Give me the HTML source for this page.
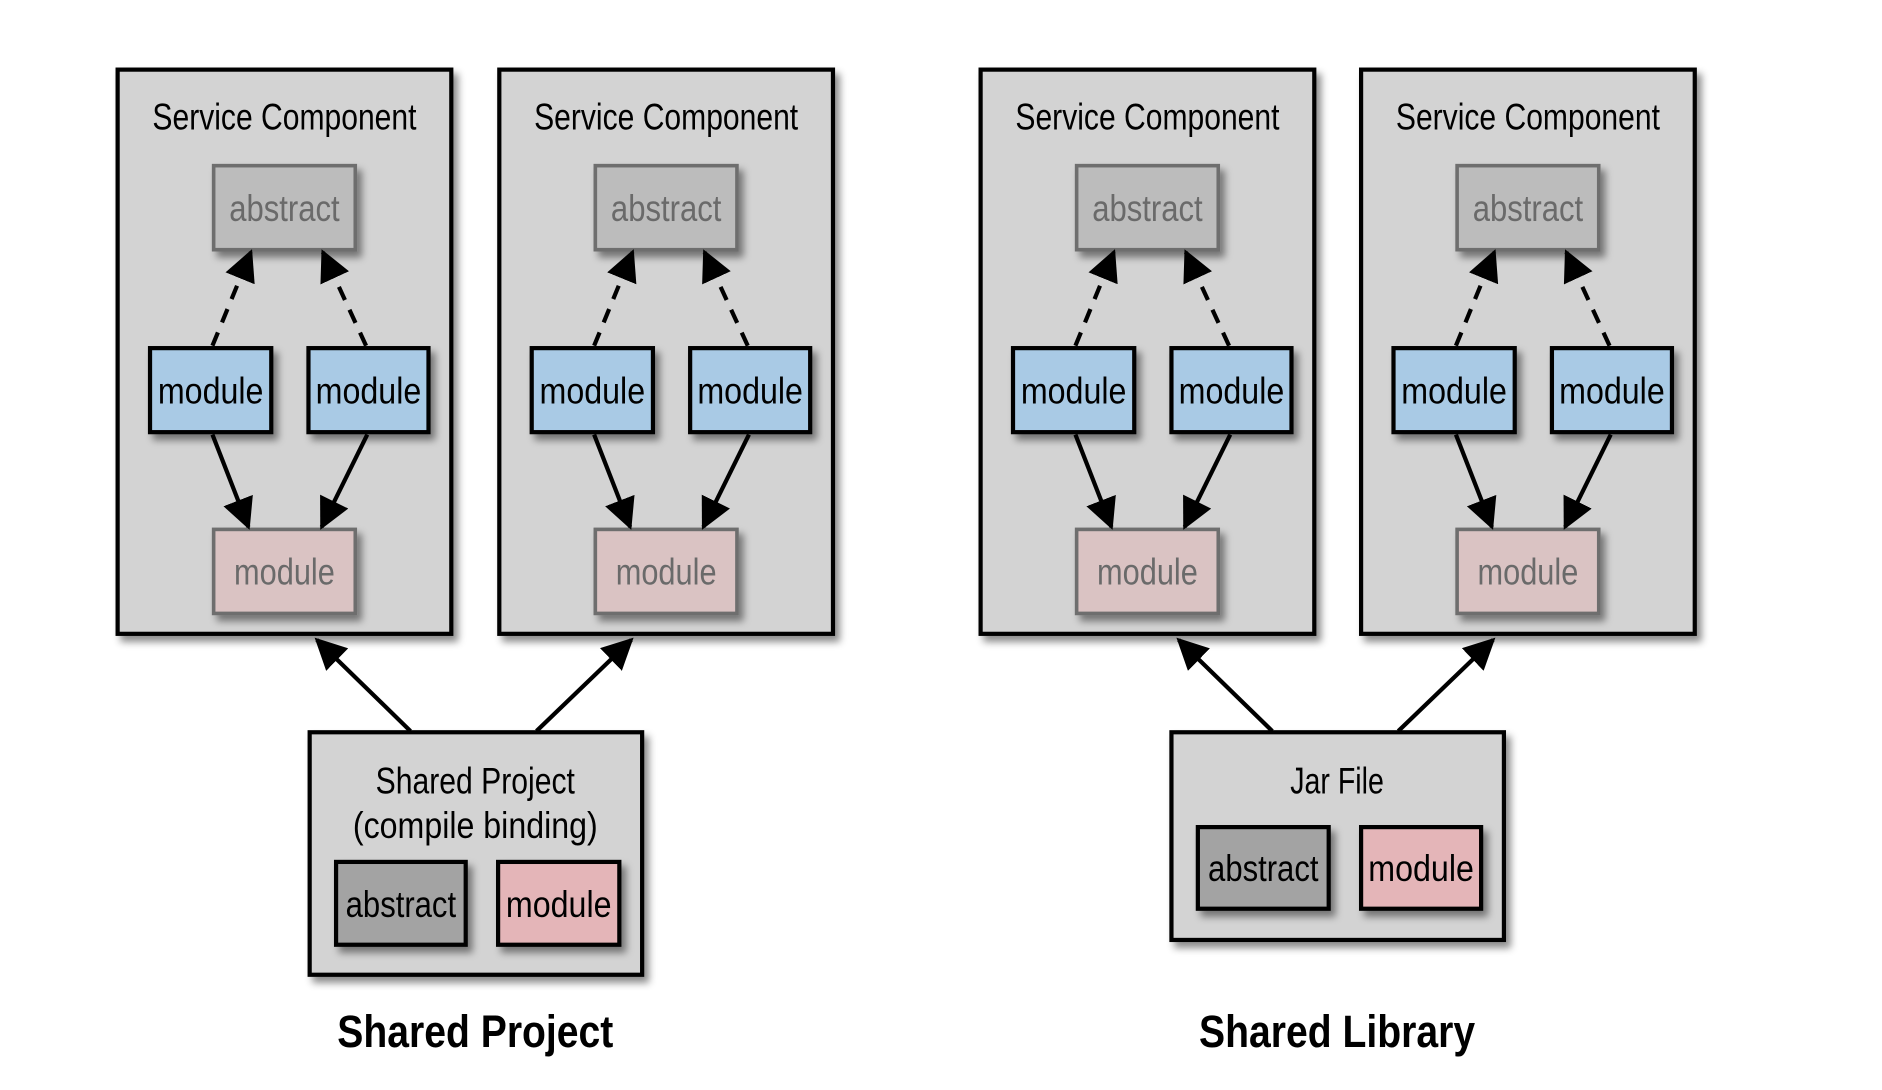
<!DOCTYPE html>
<html><head><meta charset="utf-8"><style>
html,body{margin:0;padding:0;background:#fff;}
svg{display:block;}
text{font-family:"Liberation Sans Narrow","Liberation Sans",sans-serif;text-anchor:middle;}
</style></head><body>
<svg width="1882" height="1090" viewBox="0 0 1568 908" preserveAspectRatio="none" xmlns="http://www.w3.org/2000/svg">
<defs>
<filter id="sh" x="-20%" y="-20%" width="150%" height="150%"><feDropShadow dx="4" dy="5" stdDeviation="3" flood-color="#000" flood-opacity="0.45"/></filter>
<marker id="ah" viewBox="0 0 10 10" refX="9" refY="5" markerWidth="7.5" markerHeight="7.5" markerUnits="strokeWidth" orient="auto"><path d="M0,0 L10,5 L0,10 z" fill="#000"/></marker>
<g id="sc">
<rect x="98" y="58" width="278" height="470" fill="#d3d3d3" stroke="#000" stroke-width="3.5" filter="url(#sh)"/>
<text x="237" y="108" font-size="31" textLength="220" lengthAdjust="spacingAndGlyphs">Service Component</text>
<rect x="178" y="138" width="118" height="70" fill="#bcbcbc" stroke="#6e6e6e" stroke-width="3" filter="url(#sh)"/>
<text x="237" y="184" font-size="31" fill="#6a6a6a" textLength="92" lengthAdjust="spacingAndGlyphs">abstract</text>
<rect x="125" y="290" width="101" height="70" fill="#a9cae5" stroke="#000" stroke-width="3.5" filter="url(#sh)"/>
<text x="175.5" y="336" font-size="31" textLength="88" lengthAdjust="spacingAndGlyphs">module</text>
<rect x="257" y="290" width="100" height="70" fill="#a9cae5" stroke="#000" stroke-width="3.5" filter="url(#sh)"/>
<text x="307" y="336" font-size="31" textLength="88" lengthAdjust="spacingAndGlyphs">module</text>
<rect x="178" y="441" width="118" height="70" fill="#dac3c3" stroke="#6e6e6e" stroke-width="3" filter="url(#sh)"/>
<text x="237" y="487" font-size="31" fill="#6a6a6a" textLength="84" lengthAdjust="spacingAndGlyphs">module</text>
<line x1="177" y1="288" x2="209" y2="210" stroke="#000" stroke-width="3.5" stroke-dasharray="12,9" marker-end="url(#ah)"/>
<line x1="305" y1="288" x2="269" y2="210" stroke="#000" stroke-width="3.5" stroke-dasharray="12,9" marker-end="url(#ah)"/>
<line x1="177" y1="362" x2="207" y2="439" stroke="#000" stroke-width="3.5" marker-end="url(#ah)"/>
<line x1="306" y1="362" x2="268" y2="439" stroke="#000" stroke-width="3.5" marker-end="url(#ah)"/>
</g>
</defs>
<use href="#sc"/>
<use href="#sc" transform="translate(318,0)"/>
<use href="#sc" transform="translate(719,0)"/>
<use href="#sc" transform="translate(1036,0)"/>

<line x1="342" y1="609" x2="264" y2="533" stroke="#000" stroke-width="3.5" marker-end="url(#ah)"/>
<line x1="447" y1="609" x2="526" y2="533" stroke="#000" stroke-width="3.5" marker-end="url(#ah)"/>
<rect x="258" y="610" width="277" height="202" fill="#d3d3d3" stroke="#000" stroke-width="3.5" filter="url(#sh)"/>
<text x="396" y="661" font-size="31" textLength="166" lengthAdjust="spacingAndGlyphs">Shared Project</text>
<text x="396" y="698" font-size="31" textLength="204" lengthAdjust="spacingAndGlyphs">(compile binding)</text>
<rect x="280" y="718" width="108" height="69" fill="#a3a3a3" stroke="#000" stroke-width="3.5" filter="url(#sh)"/>
<text x="334" y="764" font-size="31" textLength="92" lengthAdjust="spacingAndGlyphs">abstract</text>
<rect x="415" y="718" width="101" height="69" fill="#e4b5b8" stroke="#000" stroke-width="3.5" filter="url(#sh)"/>
<text x="465.5" y="764" font-size="31" textLength="88" lengthAdjust="spacingAndGlyphs">module</text>
<text x="396" y="872" font-size="38" font-weight="bold" textLength="230" lengthAdjust="spacingAndGlyphs">Shared Project</text>

<line x1="1060" y1="609" x2="982" y2="533" stroke="#000" stroke-width="3.5" marker-end="url(#ah)"/>
<line x1="1165" y1="609" x2="1244" y2="533" stroke="#000" stroke-width="3.5" marker-end="url(#ah)"/>
<rect x="976" y="610" width="277" height="173" fill="#d3d3d3" stroke="#000" stroke-width="3.5" filter="url(#sh)"/>
<text x="1114" y="661" font-size="31" textLength="78" lengthAdjust="spacingAndGlyphs">Jar File</text>
<rect x="998" y="689" width="109" height="68" fill="#a3a3a3" stroke="#000" stroke-width="3.5" filter="url(#sh)"/>
<text x="1052.5" y="734" font-size="31" textLength="92" lengthAdjust="spacingAndGlyphs">abstract</text>
<rect x="1134" y="689" width="100" height="68" fill="#e4b5b8" stroke="#000" stroke-width="3.5" filter="url(#sh)"/>
<text x="1184" y="734" font-size="31" textLength="88" lengthAdjust="spacingAndGlyphs">module</text>
<text x="1114" y="872" font-size="38" font-weight="bold" textLength="230" lengthAdjust="spacingAndGlyphs">Shared Library</text>
</svg>
</body></html>
